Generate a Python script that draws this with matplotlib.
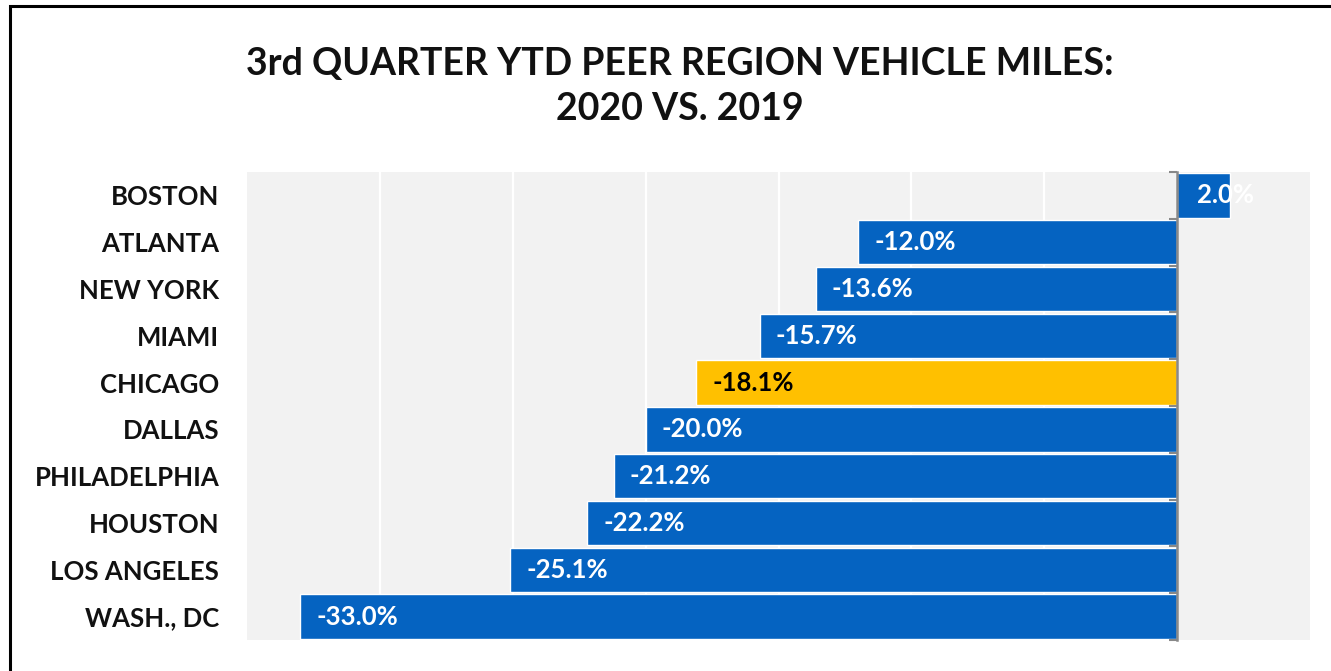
import numpy as np
import matplotlib
matplotlib.use("Agg")
import matplotlib.pyplot as plt
from matplotlib.patches import Rectangle

plt.rcParams['font.family'] = ['Lato', 'DejaVu Sans']

# Data
regions = ['BOSTON', 'ATLANTA', 'NEW YORK', 'MIAMI', 'CHICAGO', 'DALLAS',
           'PHILADELPHIA', 'HOUSTON', 'LOS ANGELES', 'WASH., DC']
pct_change = [2.0, -12.0, -13.6, -15.7, -18.1, -20.0, -21.2, -22.2, -25.1, -33.0]
highlight = 'CHICAGO'

blue = '#0563C1'
gold = '#FFC000'
colors = [gold if r == highlight else blue for r in regions]

fig = plt.figure(figsize=(13.31, 6.71), dpi=100)
ax = fig.add_axes([0.1856, 0.0462, 0.7986, 0.6975])
ax.set_facecolor('#F2F2F2')

y = np.arange(len(regions))
ax.barh(y, pct_change, height=0.95, color=colors, edgecolor='white', linewidth=1, zorder=2)

ax.set_xlim(-35, 5)
ax.set_ylim(len(regions) - 0.5, -0.5)
ax.set_xticks(np.arange(-30, 1, 5))
ax.tick_params(axis='x', length=0, labelbottom=False)
ax.grid(axis='x', color='white', linewidth=1.6)
ax.set_axisbelow(True)
for s in ax.spines.values():
    s.set_visible(False)

ax.set_yticks(y)
ax.set_yticklabels(regions, fontsize=18.5, fontweight='bold', color='#111111')
ax.tick_params(axis='y', length=0, pad=20)

# data labels near bar end
for i, v in enumerate(pct_change):
    txt_color = 'black' if regions[i] == highlight else 'white'
    xpos = v + 0.6 if v < 0 else 0.75
    ax.text(xpos, i, f'{v:.1f}%', va='center', ha='left', fontsize=18.5,
            fontweight='bold', color=txt_color, zorder=3)

# zero axis with ticks between categories
zero_pos = (0 - ax.get_xlim()[0]) / (ax.get_xlim()[1] - ax.get_xlim()[0])
sec = ax.secondary_yaxis(zero_pos)
sec.set_zorder(5)
sec.set_yticks(np.arange(-0.5, len(regions), 1))
sec.set_yticklabels([])
sec.tick_params(axis='y', direction='in', length=6, width=1.5, color='#888888')
for s in sec.spines.values():
    s.set_color('#888888')
    s.set_linewidth(1.8)

fig.text(0.511, 0.905, '3rd QUARTER YTD PEER REGION VEHICLE MILES:', ha='center',
         va='center', fontsize=27, fontweight='bold', color='#111111')
fig.text(0.511, 0.838, '2020 VS. 2019', ha='center', va='center', fontsize=27,
         fontweight='bold', color='#111111')

# outer frame
fig.patches.append(Rectangle((10 / 1331, -0.1), 1.2, 1.1 - 6 / 671,
                             transform=fig.transFigure, fill=False,
                             edgecolor='black', linewidth=2.2))

fig.savefig('out.png', dpi=100)
